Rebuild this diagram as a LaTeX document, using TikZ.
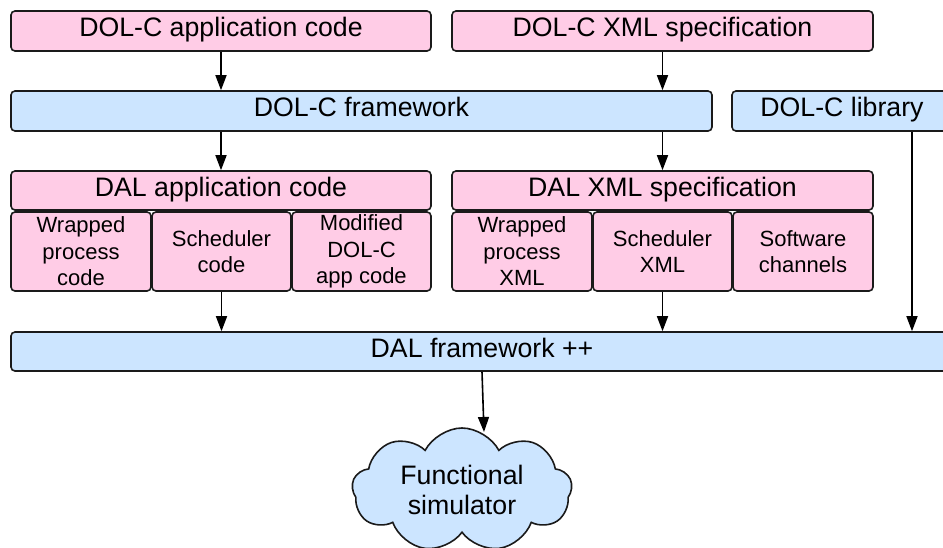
\documentclass[tikz,border=0pt]{standalone}
\usepackage{fontspec}
\setmainfont{Liberation Sans}
\usetikzlibrary{arrows.meta,shapes.symbols,calc}
\definecolor{pinkfill}{RGB}{255,204,230}
\definecolor{bluefill}{RGB}{204,229,255}
\definecolor{edgecol}{RGB}{26,26,26}
\newcommand\hdfont{\fontsize{26.7}{30.5}\selectfont}
\newcommand\sbfont{\fontsize{22}{26.5}\selectfont}
\tikzset{
  box/.style={draw=edgecol, line width=1.6pt, rounded corners=4pt, inner sep=0pt,
              align=center, text=black},
  headline/.style={font=\hdfont, text height=19.5pt, text depth=8.5pt},
  pinkbox/.style={box, headline, fill=pinkfill},
  bluebox/.style={box, headline, fill=bluefill},
  subbox/.style={box, fill=pinkfill, font=\sbfont, minimum height=79pt},
  arr/.style={draw=black, line width=1.6pt, -{Triangle[length=15pt,width=11pt]}},
  simcloud/.style={cloud, cloud puffs=9, cloud puff arc=125, cloud ignores aspect,
                   draw=edgecol, line width=1.6pt, fill=bluefill, font=\hdfont,
                   align=center, inner sep=0pt, minimum width=220pt, minimum height=124pt}
}
\begin{document}
\begin{tikzpicture}[x=1pt,y=-1pt]
\useasboundingbox (0,0) rectangle (943,547);
\clip (0,0) rectangle (943,547);

% DOL-C inputs
\node[pinkbox, minimum width=420pt, minimum height=40pt] (dolapp) at (221,31) {DOL-C application code};
\node[pinkbox, minimum width=421pt, minimum height=40pt] (dolxml) at (662.5,31) {DOL-C XML specification};

% DOL-C framework and library
\node[bluebox, minimum width=701pt, minimum height=40pt] (dolfw) at (361.5,111) {DOL-C framework};
\node[bluebox, minimum width=220pt, minimum height=40pt] (dollib) at (842,111) {DOL-C library};

% DAL application code with its parts
\node[pinkbox, minimum width=420pt, minimum height=39pt] (dalapp) at (221,190.5) {DAL application code};
\node[subbox, minimum width=140pt] (wpc) at (81,251.5) {Wrapped\\process\\code};
\node[subbox, minimum width=139pt] (schc) at (221.5,251.5) {Scheduler\\code};
\node[subbox, minimum width=139pt] (modc) at (361.5,251.5) {Modified\\DOL-C\\app code};

% DAL XML specification with its parts
\node[pinkbox, minimum width=421pt, minimum height=39pt] (dalxml) at (662.5,190.5) {DAL XML specification};
\node[subbox, minimum width=140pt] (wpx) at (522,251.5) {Wrapped\\process\\XML};
\node[subbox, minimum width=139pt] (schx) at (662.5,251.5) {Scheduler\\XML};
\node[subbox, minimum width=140pt] (swch) at (803,251.5) {Software\\channels};

% DAL framework
\node[bluebox, minimum width=942pt, minimum height=39pt] (dalfw) at (482,351.5) {DAL framework ++};

% Simulator
\node[simcloud] (sim) at (462,490) {Functional\\simulator};
\coordinate (simtop) at (484,432);

% Connectors
\draw[arr] (dolapp.south) -- (dolapp.south |- dolfw.north);
\draw[arr] (dolxml.south) -- (dolxml.south |- dolfw.north);
\draw[arr] (dalapp.north |- dolfw.south) -- (dalapp.north);
\draw[arr] (dalxml.north |- dolfw.south) -- (dalxml.north);
\draw[arr] ([xshift=70pt]dollib.south) -- ([xshift=70pt]dollib.south |- dalfw.north);
\draw[arr] (schc.south) -- (schc.south |- dalfw.north);
\draw[arr] (schx.south) -- (schx.south |- dalfw.north);
\draw[arr] (dalfw.south) -- (simtop);
\end{tikzpicture}
\end{document}
